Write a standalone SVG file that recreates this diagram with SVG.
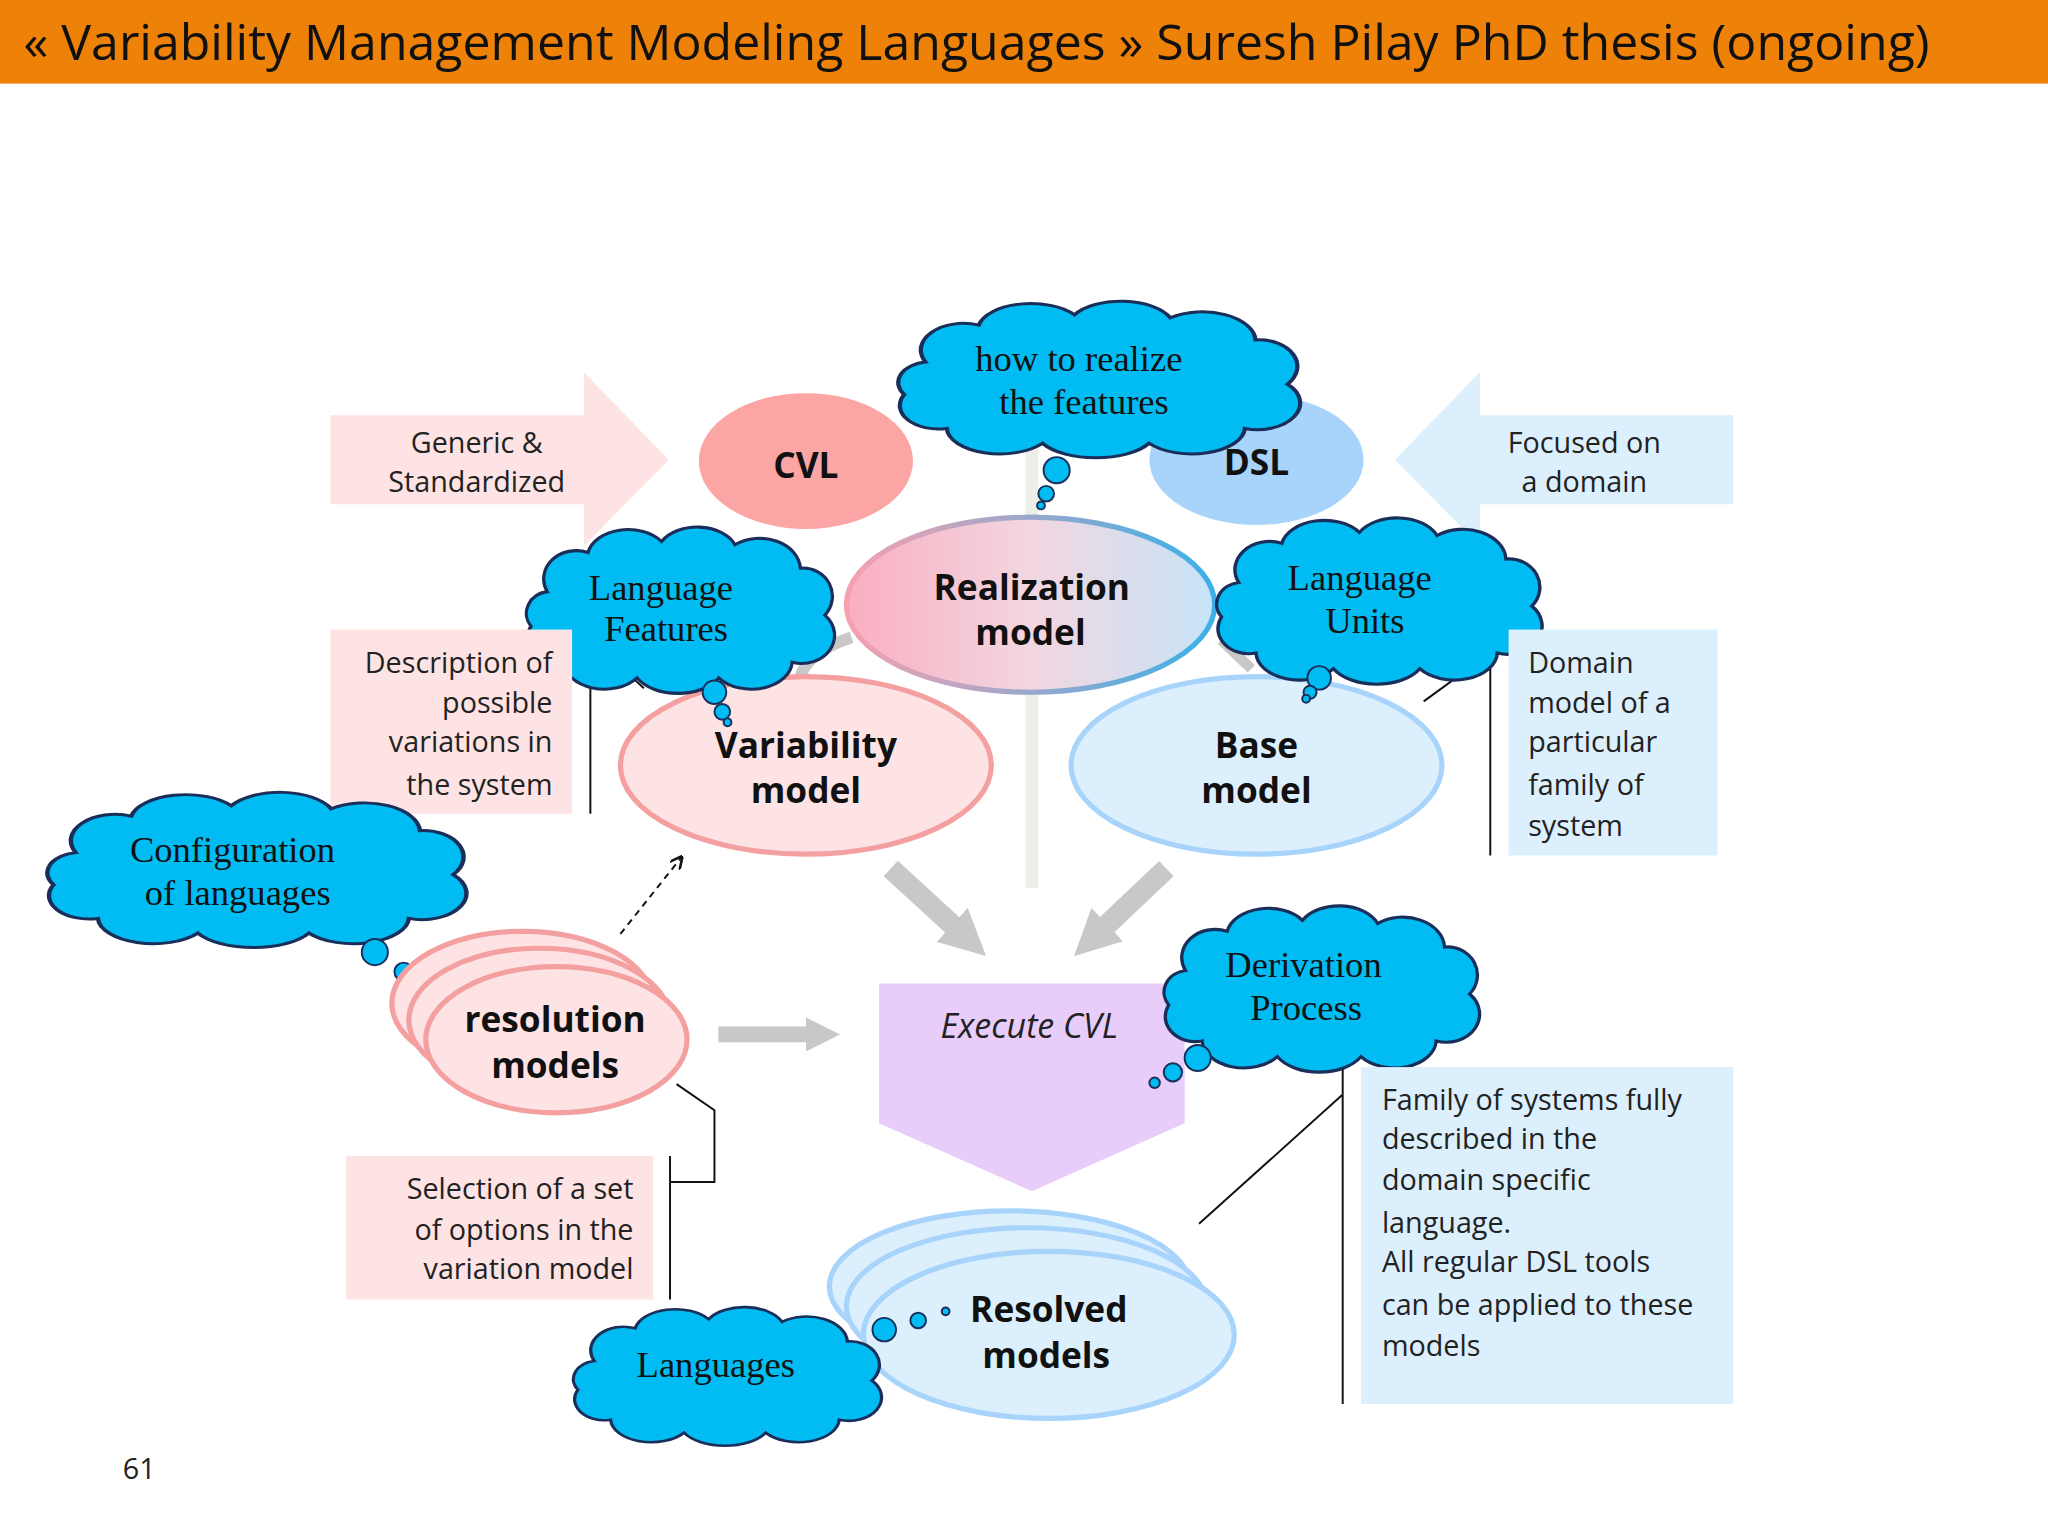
<svg xmlns="http://www.w3.org/2000/svg" width="2048" height="1536" viewBox="0 0 2048 1536">
<defs>
<style>
.t{font-family:"Open Sans","Liberation Sans",sans-serif;font-size:22px;fill:#222}
.b{font-family:"Open Sans","Liberation Sans",sans-serif;font-size:27px;font-weight:bold;fill:#111;text-anchor:middle}
.c{font-family:"Liberation Serif",serif;font-size:28px;fill:#111;text-anchor:middle}
.cl{fill:#00BCF2;stroke:#1A2E5A;stroke-width:2;vector-effect:non-scaling-stroke}
.bub{fill:#00BCF2;stroke:#1A2E5A;stroke-width:1.5}
.pk{fill:#FDE3E3;stroke:#F4A0A0;stroke-width:4}
.bl{fill:#DCEFFC;stroke:#A8D4FB;stroke-width:4}
.ln{stroke:#111;stroke-width:1.5;fill:none}
.ga{stroke:#C8C8C8;fill:none}
</style>
<path id="cloud" d="M20,40 A20,18 0 0 1 45,15 A25,18 0 0 1 90,8 A25,18 0 0 1 135,10 A25,20 0 0 1 175,25 A18,18 0 0 1 190,55 A20,18 0 0 1 170,85 A25,18 0 0 1 125,95 A28,18 0 0 1 75,95 A25,18 0 0 1 30,85 A18,16 0 0 1 10,62 A15,14 0 0 1 20,40 Z"/>
<linearGradient id="rg" x1="0" x2="1" y1="0" y2="0"><stop offset="0" stop-color="#F9AFC0"/><stop offset="0.5" stop-color="#F2D6E0"/><stop offset="1" stop-color="#C6E4F8"/></linearGradient>
<linearGradient id="rs" x1="0" x2="1"><stop offset="0" stop-color="#F7A0B0"/><stop offset="1" stop-color="#3BB0E8"/></linearGradient>
<marker id="gh" viewBox="0 0 10 10" refX="5" refY="5" markerWidth="2.2" markerHeight="2.2" orient="auto"><path d="M0,0 L10,5 L0,10 Z" fill="#C8C8C8"/></marker>
<marker id="dh" viewBox="0 0 10 10" refX="9" refY="5" markerWidth="10" markerHeight="10" orient="auto" markerUnits="userSpaceOnUse"><path d="M0,0 L10,5 L0,10" fill="none" stroke="#111" stroke-width="2"/></marker>
</defs>
<g transform="scale(1.30612)">
<g id="header"><rect x="0" y="0" width="1568" height="64" fill="#EE8208"/>
<text x="18" y="46" style="font-family:'Open Sans','Liberation Sans',sans-serif;font-size:38.3px;fill:#111">« Variability Management Modeling Languages » Suresh Pilay PhD thesis (ongoing)</text></g>

<g id="connectors">
<line x1="790" y1="300" x2="790" y2="680" stroke="#EEEEE8" stroke-width="10"/>
<path class="ga" d="M652,488 Q615,500 612,522" stroke-width="9" stroke="#BBBBBB"/>
<path class="ga" d="M935,490 L958,512" stroke-width="8" stroke="#BBBBBB"/>
<line class="ga" x1="682" y1="665" x2="742" y2="720" stroke-width="16" marker-end="url(#gh)"/>
<line class="ga" x1="893" y1="665" x2="835" y2="720" stroke-width="16" marker-end="url(#gh)"/>
<line class="ga" x1="550" y1="792" x2="630" y2="792" stroke-width="12" marker-end="url(#gh)"/>
<line x1="475" y1="715" x2="522" y2="656" stroke="#111" stroke-width="1.5" stroke-dasharray="5,4" marker-end="url(#dh)"/>
<path class="ln" d="M452,495 L452,623 M480,515 L493,527"/>
<path class="ln" d="M1141,495 L1141,655 M1141,500 L1090,537"/>
<path class="ln" d="M513,885 L513,995 M513,905 L547,905 L547,850 L518,830"/>
<path class="ln" d="M1028,817 L1028,1075 M1028,838 L918,937"/>
</g>

<g id="genericArrow"><path d="M253,318 L447,318 L447,285 L512,352 L447,418 L447,386 L253,386 Z" fill="#FDE3E3"/>
<text class="t" x="365" y="347" text-anchor="middle">Generic &amp;</text><text class="t" x="365" y="377" text-anchor="middle">Standardized</text></g>
<g id="focusedArrow"><path d="M1327,318 L1133,318 L1133,285 L1068,352 L1133,418 L1133,386 L1327,386 Z" fill="#DCEFFC"/>
<text class="t" x="1213" y="347" text-anchor="middle">Focused on</text><text class="t" x="1213" y="377" text-anchor="middle">a domain</text></g>

<g id="cvl"><ellipse cx="617" cy="353" rx="82" ry="52" fill="#FCA5A5"/><text class="b" x="617" y="366" font-size="30">CVL</text></g>
<g id="dsl"><ellipse cx="962" cy="352" rx="82" ry="50" fill="#A8D4FB"/><text class="b" x="962" y="364" font-size="30">DSL</text></g>

<g id="cloudRealize"><use href="#cloud" class="cl" transform="translate(676,232) scale(1.63,1.13)"/>
<circle class="bub" cx="809" cy="360" r="10"/><circle class="bub" cx="801" cy="378" r="6"/><circle class="bub" cx="797" cy="387" r="3"/>
<text class="c" x="826" y="284">how to realize</text><text class="c" x="830" y="317">the features</text></g>

<g id="realization"><ellipse cx="789" cy="463" rx="141" ry="67" fill="url(#rg)" stroke="url(#rs)" stroke-width="4"/>
<text class="b" x="790" y="459">Realization</text><text class="b" x="789" y="494">model</text></g>

<g id="variability"><ellipse class="pk" cx="617" cy="586" rx="142" ry="68"/>
<text class="b" x="617" y="580">Variability</text><text class="b" x="617" y="615">model</text></g>
<g id="base"><ellipse class="bl" cx="962" cy="586" rx="142" ry="68"/>
<text class="b" x="962" y="580">Base</text><text class="b" x="962" y="615">model</text></g>

<g id="cloudFeatures"><use href="#cloud" class="cl" transform="translate(394,405) scale(1.25,1.2)"/>
<circle class="bub" cx="547" cy="530" r="9"/><circle class="bub" cx="553" cy="545" r="6"/><circle class="bub" cx="557" cy="553" r="3"/>
<text class="c" x="506" y="459">Language</text><text class="c" x="510" y="491">Features</text></g>
<g id="cloudUnits"><use href="#cloud" class="cl" transform="translate(922,398) scale(1.32,1.2)"/>
<circle class="bub" cx="1010" cy="519" r="9"/><circle class="bub" cx="1003" cy="530" r="5"/><circle class="bub" cx="1000" cy="535" r="3"/>
<text class="c" x="1041" y="452">Language</text><text class="c" x="1045" y="485">Units</text></g>

<g id="descBox"><rect x="253" y="482" width="185" height="141" fill="#FDE3E3"/>
<g class="t" text-anchor="end"><text x="423" y="515">Description of</text><text x="423" y="546">possible</text><text x="423" y="576">variations in</text><text x="423" y="609">the system</text></g></g>
<g id="domainBox"><rect x="1155" y="482" width="160" height="173" fill="#DCEFFC"/>
<g class="t"><text x="1170" y="515">Domain</text><text x="1170" y="546">model of a</text><text x="1170" y="576">particular</text><text x="1170" y="609">family of</text><text x="1170" y="640">system</text></g></g>

<g id="cloudConfig"><use href="#cloud" class="cl" transform="translate(24,608) scale(1.7,1.12)"/>
<circle class="bub" cx="287" cy="729" r="10"/><circle class="bub" cx="309" cy="744" r="7"/><circle class="bub" cx="326" cy="756" r="4"/>
<text class="c" x="178" y="660">Configuration</text><text class="c" x="182" y="693">of languages</text></g>

<g id="resolution"><ellipse class="pk" cx="400" cy="768" rx="100" ry="55"/><ellipse class="pk" cx="413" cy="781" rx="100" ry="55"/><ellipse class="pk" cx="426" cy="796" rx="100" ry="56"/>
<text class="b" x="425" y="790">resolution</text><text class="b" x="425" y="825">models</text></g>

<g id="execute"><polygon points="673,753 907,753 907,860 790,912 673,860" fill="#E8CCFA"/>
<text x="788" y="795" style="font-family:'Open Sans','Liberation Sans',sans-serif;font-size:26px;font-style:italic;fill:#222" text-anchor="middle">Execute CVL</text></g>

<g id="cloudDerivation"><use href="#cloud" class="cl" transform="translate(882,695) scale(1.28,1.2)"/>
<circle class="bub" cx="917" cy="810" r="10"/><circle class="bub" cx="898" cy="821" r="7"/><circle class="bub" cx="884" cy="829" r="4"/>
<text class="c" x="998" y="748">Derivation</text><text class="c" x="1000" y="781">Process</text></g>

<g id="resolved"><ellipse class="bl" cx="773" cy="985" rx="138" ry="58"/><ellipse class="bl" cx="786" cy="1000" rx="138" ry="60"/><ellipse class="bl" cx="803" cy="1022" rx="142" ry="64"/>
<text class="b" x="803" y="1012">Resolved</text><text class="b" x="801" y="1047">models</text></g>

<g id="cloudLanguages"><use href="#cloud" class="cl" transform="translate(430,1002) scale(1.25,1.0)"/>
<circle class="bub" cx="677" cy="1018" r="9"/><circle class="bub" cx="703" cy="1011" r="6"/><circle class="bub" cx="724" cy="1004" r="3"/>
<text class="c" x="548" y="1054">Languages</text></g>

<g id="selectionBox"><rect x="265" y="885" width="235" height="110" fill="#FDE3E3"/>
<g class="t" text-anchor="end"><text x="485" y="918">Selection of a set</text><text x="485" y="949">of options in the</text><text x="485" y="979">variation model</text></g></g>

<g id="familyBox"><rect x="1042" y="817" width="285" height="258" fill="#DCEFFC"/>
<g class="t"><text x="1058" y="850">Family of systems fully</text><text x="1058" y="880">described in the</text><text x="1058" y="911">domain specific</text><text x="1058" y="944">language.</text><text x="1058" y="974">All regular DSL tools</text><text x="1058" y="1007">can be applied to these</text><text x="1058" y="1038">models</text></g></g>

<text class="t" x="94" y="1132" font-size="20">61</text>
</g>
</svg>
